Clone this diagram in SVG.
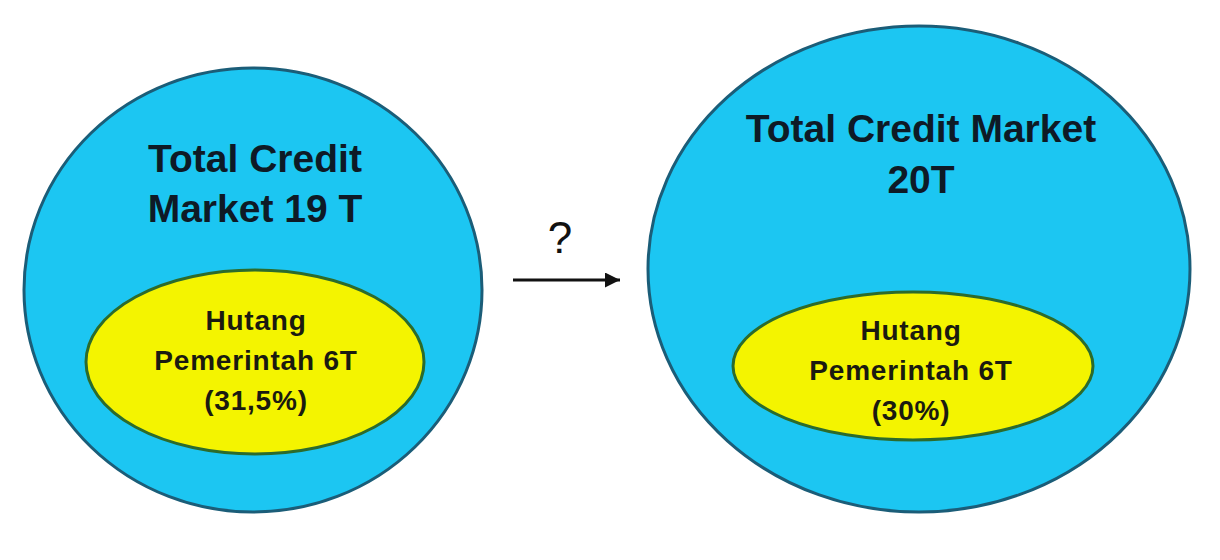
<svg xmlns="http://www.w3.org/2000/svg" width="1220" height="560" viewBox="0 0 1220 560">
  <defs>
    <style>
      .outer { fill: #1cc6f2; stroke: #1b5d78; stroke-width: 3; }
      .inner { fill: #f4f400; stroke: #2c6b2c; stroke-width: 3; }
      .title { font-family: "Liberation Sans", Arial, sans-serif; font-weight: bold; font-size: 39px; fill: #0e1a26; text-anchor: middle; }
      .sub { font-family: "Liberation Sans", Arial, sans-serif; font-weight: bold; font-size: 28px; letter-spacing: 0.8px; fill: #1a1a10; text-anchor: middle; }
      .q { font-family: "Liberation Sans", Arial, sans-serif; font-size: 44px; fill: #111; text-anchor: middle; }
    </style>
    <marker id="ah" viewBox="0 0 10 10" refX="10" refY="5" markerWidth="5" markerHeight="5" orient="auto" markerUnits="strokeWidth">
      <path d="M0,0 L10,5 L0,10 z" fill="#111"/>
    </marker>
  </defs>
  <rect width="1220" height="560" fill="#ffffff"/>

  <g id="left-market">
    <ellipse class="outer" cx="253" cy="290" rx="229" ry="222"/>
    <text class="title" x="255" y="172">Total Credit</text>
    <text class="title" x="255" y="222">Market 19 T</text>
  </g>
  <g id="left-debt">
    <ellipse class="inner" cx="255" cy="362" rx="169" ry="92"/>
    <text class="sub" x="256" y="330">Hutang</text>
    <text class="sub" x="256" y="370">Pemerintah 6T</text>
    <text class="sub" x="256" y="410">(31,5%)</text>
  </g>

  <g id="right-market">
    <ellipse class="outer" cx="919" cy="269" rx="271" ry="243"/>
    <text class="title" x="921" y="142">Total Credit Market</text>
    <text class="title" x="921" y="193">20T</text>
  </g>
  <g id="right-debt">
    <ellipse class="inner" cx="913" cy="366" rx="180" ry="74"/>
    <text class="sub" x="911" y="340">Hutang</text>
    <text class="sub" x="911" y="380">Pemerintah 6T</text>
    <text class="sub" x="911" y="420">(30%)</text>
  </g>

  <g id="connectors">
    <line x1="513" y1="280" x2="620" y2="280" stroke="#111" stroke-width="3" marker-end="url(#ah)"/>
    <text class="q" x="560" y="253">?</text>
  </g>
</svg>
